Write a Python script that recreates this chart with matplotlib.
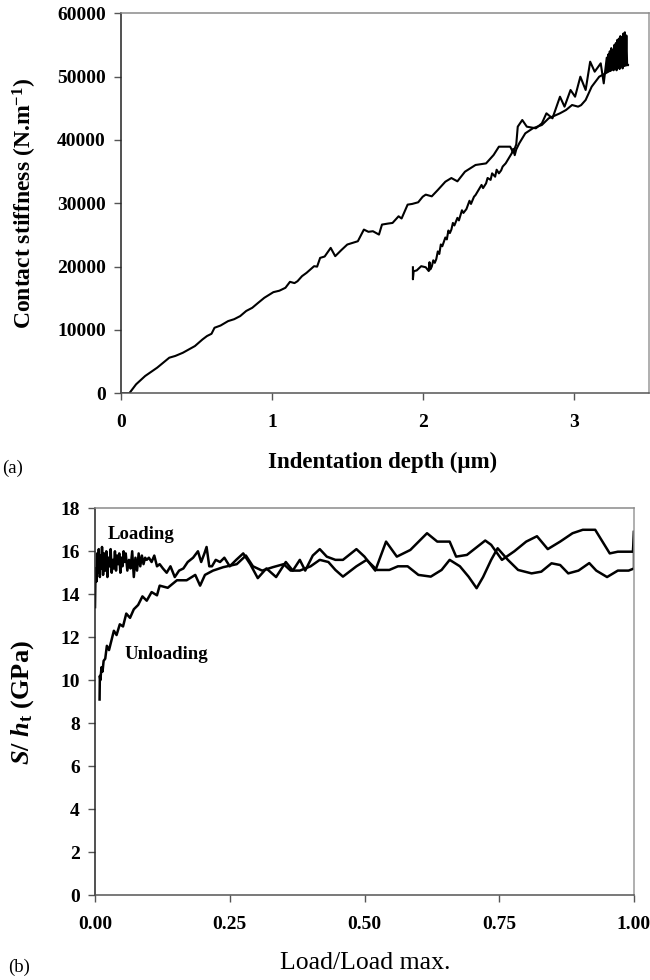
import matplotlib
matplotlib.use("Agg")
import matplotlib.pyplot as plt
from matplotlib.ticker import FormatStrFormatter

plt.rcParams['font.family'] = ['Liberation Serif', 'DejaVu Serif']
plt.rcParams['mathtext.fontset'] = 'custom'
plt.rcParams['mathtext.rm'] = 'Liberation Serif:bold'
plt.rcParams['mathtext.it'] = 'Liberation Serif:italic:bold'
plt.rcParams['mathtext.bf'] = 'Liberation Serif:bold'

# ---------------- Panel (a): contact stiffness vs depth ----------------
a_xticks = [0, 1, 2, 3]
a_yticks = [0, 10000, 20000, 30000, 40000, 50000, 60000]

load_depth = [0.000, 0.055, 0.10, 0.16, 0.24, 0.32, 0.36, 0.41, 0.49, 0.54,
              0.57, 0.60, 0.62, 0.66, 0.71, 0.75, 0.79, 0.83, 0.87, 0.91,
              0.95, 1.01, 1.05, 1.09, 1.12, 1.15, 1.17, 1.20, 1.23, 1.28,
              1.30, 1.32, 1.35, 1.39, 1.42, 1.46, 1.50, 1.57, 1.61, 1.64,
              1.67, 1.71, 1.73, 1.77, 1.80, 1.84, 1.86, 1.90, 1.93, 1.97,
              2.00, 2.02, 2.06, 2.10, 2.15, 2.19, 2.23, 2.28, 2.35, 2.42,
              2.47, 2.505, 2.58, 2.60, 2.62, 2.63, 2.66, 2.69, 2.75, 2.79,
              2.82, 2.86, 2.91, 2.94, 2.98, 3.01, 3.045, 3.08, 3.11, 3.14,
              3.18, 3.20, 3.21, 3.22, 3.225, 3.23, 3.235, 3.24, 3.245, 3.25,
              3.255, 3.26, 3.265, 3.27, 3.275, 3.28, 3.285, 3.29, 3.295, 3.30,
              3.305, 3.31, 3.315, 3.32, 3.325, 3.33, 3.335, 3.34, 3.345, 3.35,
              3.355, 3.36]
load_stiff = [0, 0, 1420, 2730, 4050, 5620, 5900, 6400, 7460, 8500,
              9040, 9400, 10350, 10700, 11400, 11700, 12190, 13000, 13500, 14300,
              15080, 15970, 16200, 16660, 17600, 17400, 17700, 18500, 19020, 20070,
              20000, 21380, 21600, 22960, 21650, 22600, 23490, 24010, 25850, 25500,
              25590, 25060, 26640, 26800, 26900, 27950, 27600, 29790, 29900, 30160,
              31040, 31370, 31100, 32100, 33410, 33990, 33470, 34990, 36050, 36300,
              37630, 38940, 38940, 38000, 39300, 42100, 43150, 42100, 41840, 42630,
              44210, 43420, 46830, 45260, 47890, 46830, 49990, 47890, 52360, 50780,
              52100, 48940, 51000, 53000, 50800, 53500, 51200, 54000, 50900, 54500,
              51300, 54200, 51000, 55000, 51500, 55300, 51000, 55800, 51600, 56000,
              51200, 56400, 51800, 56200, 51300, 56800, 51700, 57000, 52000, 56500,
              51900, 51840]

unload_depth = [3.36, 3.30, 3.25, 3.21, 3.17, 3.12, 3.08, 3.05, 3.03, 2.99,
                2.95, 2.91, 2.835, 2.79, 2.73, 2.68, 2.64, 2.62, 2.61, 2.60,
                2.59, 2.57, 2.55, 2.53, 2.52, 2.505, 2.49, 2.48, 2.46, 2.45,
                2.43, 2.42, 2.40, 2.39, 2.37, 2.35, 2.34, 2.32, 2.31, 2.29,
                2.27, 2.26, 2.24, 2.23, 2.21, 2.20, 2.19, 2.18, 2.17, 2.16,
                2.15, 2.13, 2.12, 2.11, 2.10, 2.09, 2.08, 2.07, 2.06, 2.05,
                2.045, 2.04, 2.02, 1.99, 1.96, 1.94, 1.935, 1.935]
unload_stiff = [51840, 51500, 51050, 50500, 49990, 48410, 46310, 45500, 45260, 45520,
                44730, 44210, 43420, 42370, 41840, 41050, 39470, 38500, 37600, 38600,
                37890, 37100, 36310, 35800, 35200, 34730, 35300, 34200, 34730, 33700,
                34000, 33150, 32400, 32900, 32100, 31300, 31040, 29900, 30400, 29100,
                28480, 28900, 27300, 27700, 26500, 26900, 25850, 25300, 25700, 24300,
                24600, 23220, 23500, 22000, 22400, 21200, 20600, 21000, 20000, 19550,
                20700, 19300, 19900, 20070, 19400, 19280, 18000, 19900]

# ---------------- Panel (b): S/h_t vs normalised load ----------------
b_xticks = [0.00, 0.25, 0.50, 0.75, 1.00]
b_yticks = [0, 2, 4, 6, 8, 10, 12, 14, 16, 18]

load_frac = [0.000, 0.001, 0.003, 0.004, 0.006, 0.007, 0.009, 0.010, 0.012, 0.013,
             0.015, 0.017, 0.019, 0.021, 0.023, 0.025, 0.027, 0.029, 0.031, 0.033,
             0.035, 0.037, 0.039, 0.041, 0.043, 0.045, 0.047, 0.049, 0.051, 0.053,
             0.055, 0.057, 0.060, 0.063, 0.066, 0.069, 0.072, 0.075, 0.078, 0.081,
             0.084, 0.087, 0.090, 0.093, 0.096, 0.100, 0.105, 0.110, 0.115, 0.120,
             0.126, 0.133, 0.140, 0.148, 0.156, 0.164, 0.172, 0.182, 0.191, 0.197,
             0.203, 0.207, 0.212, 0.217, 0.224, 0.232, 0.240, 0.250, 0.262, 0.275,
             0.288, 0.302, 0.318, 0.336, 0.354, 0.367, 0.380, 0.390, 0.404, 0.417,
             0.430, 0.446, 0.460, 0.485, 0.500, 0.520, 0.540, 0.560, 0.585, 0.616,
             0.635, 0.658, 0.670, 0.690, 0.724, 0.735, 0.755, 0.778, 0.800, 0.820,
             0.840, 0.863, 0.886, 0.905, 0.928, 0.955, 0.970, 0.998, 1.000]
load_ratio = [13.4, 15.2, 14.6, 15.9, 15.0, 16.1, 14.8, 15.8, 15.2, 16.2,
              14.9, 15.9, 15.1, 16.0, 14.8, 15.7, 15.3, 16.1, 15.0, 15.6,
              15.2, 16.0, 15.1, 15.8, 15.4, 15.9, 15.0, 15.7, 15.3, 16.0,
              15.5, 15.9, 15.1, 15.6, 15.2, 16.0, 14.8, 15.7, 15.1, 15.9,
              15.3, 15.8, 15.4, 15.7, 15.6, 15.7, 15.5, 15.8, 15.3, 15.4,
              15.2, 15.0, 15.3, 14.8, 15.1, 15.2, 15.5, 15.7, 16.0, 15.5,
              15.9, 16.2, 15.3, 15.3, 15.6, 15.5, 15.7, 15.3, 15.6, 15.9,
              15.4, 14.75, 15.2, 14.8, 15.5, 15.1, 15.6, 15.1, 15.8, 16.1,
              15.75, 15.6, 15.6, 16.1, 15.75, 15.1, 16.45, 15.75, 16.06, 16.84,
              16.45, 16.45, 15.75, 15.83, 16.5, 16.3, 15.6, 16.0, 16.45, 16.7,
              16.1, 16.45, 16.84, 17.0, 17.0, 15.9, 15.98, 15.98, 16.9]

unload_frac = [1.000, 1.000, 0.990, 0.970, 0.950, 0.930, 0.917, 0.897, 0.878, 0.863,
               0.847, 0.828, 0.810, 0.785, 0.766, 0.747, 0.735, 0.720, 0.708, 0.693,
               0.677, 0.658, 0.643, 0.623, 0.600, 0.580, 0.562, 0.546, 0.523, 0.504,
               0.485, 0.460, 0.446, 0.433, 0.417, 0.400, 0.380, 0.363, 0.350, 0.330,
               0.310, 0.293, 0.280, 0.263, 0.238, 0.219, 0.204, 0.195, 0.186, 0.170,
               0.152, 0.135, 0.120, 0.115, 0.105, 0.096, 0.088, 0.080, 0.072, 0.065,
               0.058, 0.052, 0.046, 0.040, 0.035, 0.030, 0.026, 0.022, 0.019, 0.016,
               0.014, 0.012, 0.010, 0.009, 0.0085]
unload_ratio = [16.9, 15.2, 15.1, 15.1, 14.8, 15.1, 15.45, 15.1, 14.97, 15.36,
                15.44, 15.05, 14.97, 15.13, 15.6, 16.14, 15.6, 14.8, 14.28, 14.82,
                15.3, 15.6, 15.13, 14.82, 14.9, 15.3, 15.3, 15.13, 15.13, 15.6,
                15.3, 14.82, 15.13, 15.5, 15.6, 15.3, 15.1, 15.1, 15.4, 15.26,
                15.1, 15.3, 15.8, 15.4, 15.26, 15.1, 14.9, 14.4, 14.9, 14.65,
                14.65, 14.3, 14.4, 13.95, 14.1, 13.7, 13.9, 13.5, 13.3, 12.9,
                13.1, 12.5, 12.6, 12.1, 12.3, 11.8, 11.4, 11.6, 11.0, 10.9,
                10.4, 10.6, 10.0, 10.2, 9.1]

W, H = 650, 980
fig = plt.figure(figsize=(W / 100, H / 100), dpi=100)

def px_axes(left, top, right, bottom):
    return fig.add_axes([left / W, 1 - bottom / H, (right - left) / W, (bottom - top) / H])

def style(ax):
    ax.spines['left'].set_color('#222222')
    ax.spines['bottom'].set_color('#555555')
    ax.spines['top'].set_color('#8a8a8a')
    ax.spines['right'].set_color('#9a9a9a')
    for s in ax.spines.values():
        s.set_linewidth(1.1)
    ax.tick_params(direction='out', length=5, width=1.0, color='#555555',
                   labelsize=14)
    ax.tick_params(axis='y', pad=6)
    ax.tick_params(axis='x', pad=10)
    for lab in ax.get_xticklabels() + ax.get_yticklabels():
        lab.set_fontweight('bold')

# Panel (a)
ax1 = px_axes(121, 13.3, 649, 393.3)
ax1.plot(load_depth, load_stiff, color='black', lw=1.5)
ax1.plot(unload_depth, unload_stiff, color='black', lw=1.5)
ax1.set_xlim(0, 3.5)
ax1.set_ylim(0, 60000)
ax1.set_xticks(a_xticks)
ax1.set_yticks(a_yticks)
style(ax1)

fig.text(25 / W, 1 - 203 / H, 'Contact stiffness (N.m$^{-1}$)', rotation=90,
         ha='center', va='center', fontsize=17, fontweight='bold')
fig.text(383 / W, 1 - 462 / H, 'Indentation depth (µm)', ha='center', va='center',
         fontsize=16.5, fontweight='bold')
fig.text(2 / W, 1 - 468 / H, '(a)', ha='left', va='center', fontsize=13.5)

# Panel (b)
ax2 = px_axes(95, 508.3, 634, 895)
ax2.plot(load_frac, load_ratio, color='black', lw=1.8)
ax2.plot(unload_frac, unload_ratio, color='black', lw=1.8)
ax2.set_xlim(0, 1.0)
ax2.set_ylim(0, 18)
ax2.set_xticks(b_xticks)
ax2.set_yticks(b_yticks)
ax2.xaxis.set_major_formatter(FormatStrFormatter('%.2f'))
style(ax2)

ax2.text(0.024, 16.8, 'Loading', ha='left', va='center', fontsize=13.5, fontweight='bold')
ax2.text(0.054, 11.2, 'Unloading', ha='left', va='center', fontsize=13.5, fontweight='bold')

fig.text(23 / W, 1 - 703 / H, '$S$/ $h_{\\mathrm{t}}$ (GPa)', rotation=90,
         ha='center', va='center', fontsize=19, fontweight='bold')
fig.text(365 / W, 1 - 963 / H, 'Load/Load max.', ha='center', va='center', fontsize=18.5)
fig.text(8 / W, 1 - 967 / H, '(b)', ha='left', va='center', fontsize=13.5)

fig.savefig('out.png', dpi=100)
